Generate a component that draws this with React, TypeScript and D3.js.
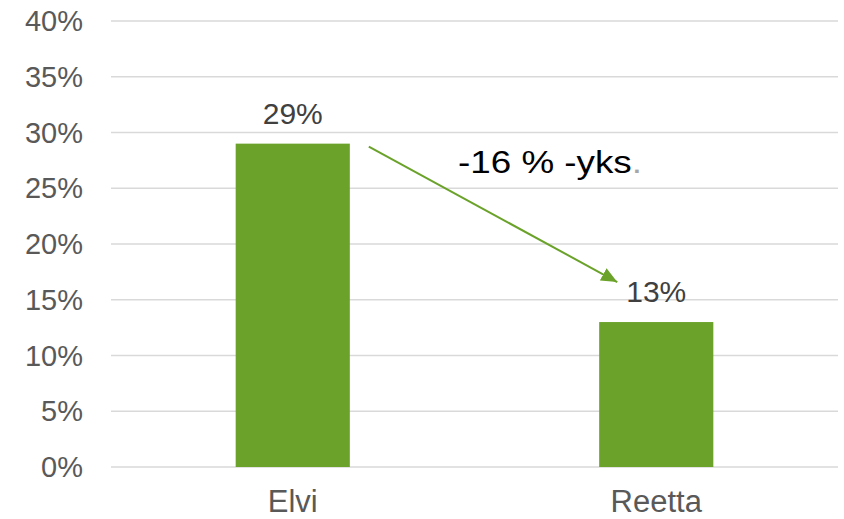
import React from "react";
import * as d3 from "d3";

const categories = ["Elvi", "Reetta"];
const values = [0.29, 0.13];
const yTicks = [0, 0.05, 0.1, 0.15, 0.2, 0.25, 0.3, 0.35, 0.4];
const annotation = "-16 % -yks";

const W = 844;
const H = 519;
const GREEN = "#6aa22a";
const FONT = "'Liberation Sans', Arial, sans-serif";

export default function App() {
  const x = d3
    .scaleBand<string>()
    .domain(categories)
    .range([111, 838])
    .paddingInner(0.686)
    .paddingOuter(0.343);
  const y = d3.scaleLinear().domain([0, 0.4]).range([467, 21]);
  const fmt = d3.format(".0%");

  const x0 = (x(categories[0]) as number) + x.bandwidth();
  const y0 = y(values[0]);
  const x1 = (x(categories[1]) as number) + x.bandwidth() / 2;
  const y1 = y(values[1]);
  const ax1 = x0 + 19;
  const ay1 = y0 + 3;
  const ax2 = x1 - 39;
  const ay2 = y1 - 40;

  return (
    <svg
      width={W}
      height={H}
      style={{ position: "absolute", left: 0, top: 0 }}
      fontFamily={FONT}
    >
      <defs>
        <marker
          id="arr"
          viewBox="0 0 16 14"
          refX="16"
          refY="7"
          markerWidth="16"
          markerHeight="14"
          markerUnits="userSpaceOnUse"
          orient="auto"
        >
          <path d="M0,0 L16,7 L0,14 Z" fill={GREEN} />
        </marker>
      </defs>
      {yTicks.map((t) => (
        <g key={t}>
          <line x1={111} x2={838} y1={y(t)} y2={y(t)} stroke="#d9d9d9" strokeWidth={1.5} />
          <text
            x={83}
            y={y(t)}
            dy="0.35em"
            textAnchor="end"
            fontSize={29}
            fill="#595959"
          >
            {fmt(t)}
          </text>
        </g>
      ))}
      {categories.map((c, i) => (
        <g key={c}>
          <rect
            x={x(c)}
            y={y(values[i])}
            width={x.bandwidth()}
            height={y(0) - y(values[i])}
            fill={GREEN}
          />
          <text
            x={(x(c) as number) + x.bandwidth() / 2}
            y={y(values[i]) - 20}
            textAnchor="middle"
            fontSize={30}
            fill="#404040"
          >
            {fmt(values[i])}
          </text>
          <text
            x={(x(c) as number) + x.bandwidth() / 2}
            y={512}
            textAnchor="middle"
            fontSize={31}
            fill="#595959"
          >
            {c}
          </text>
        </g>
      ))}
      <line
        x1={ax1}
        y1={ay1}
        x2={ax2}
        y2={ay2}
        stroke={GREEN}
        strokeWidth={2}
        markerEnd="url(#arr)"
      />
      <g transform="translate(458,172.5) scale(1.15,1)">
        <text x={0} y={0} fontSize={32} fill="#000">
          {annotation}
          <tspan fill="#a6a6a6">.</tspan>
        </text>
      </g>
    </svg>
  );
}
